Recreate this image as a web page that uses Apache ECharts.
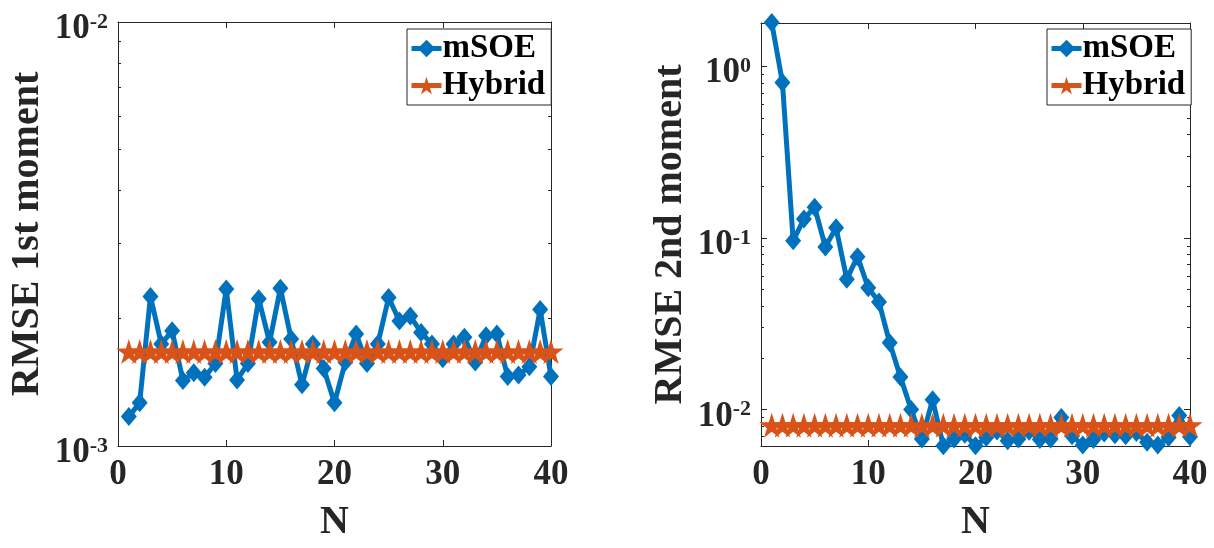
<!DOCTYPE html>
<html>
<head>
<meta charset="utf-8">
<script src="https://cdn.jsdelivr.net/npm/echarts@6/dist/echarts.min.js"></script>
<style>
  html, body { margin: 0; padding: 0; background: #fff; }
  #chart { width: 1214px; height: 548px; }
</style>
</head>
<body>
<div id="chart"></div>
<script>
// N values (x axis)
var nValues = [1, 2, 3, 4, 5, 6, 7, 8, 9, 10, 11, 12, 13, 14, 15, 16, 17, 18, 19, 20,
  21, 22, 23, 24, 25, 26, 27, 28, 29, 30, 31, 32, 33, 34, 35, 36, 37, 38, 39, 40];

// RMSE 1st moment
var msoeFirst = [0.001173, 0.001264, 0.002252, 0.001741, 0.001869, 0.001427, 0.001489, 0.001452, 0.001565, 0.002346,
  0.001432, 0.001565, 0.002224, 0.001757, 0.002355, 0.001788, 0.001394, 0.001741, 0.001523, 0.001264,
  0.001579, 0.001836, 0.001565, 0.001741, 0.002240, 0.001971, 0.002025, 0.001853, 0.001741, 0.001607,
  0.001741, 0.001804, 0.001579, 0.001820, 0.001836, 0.001458, 0.001470, 0.001537, 0.002098, 0.001458];
var hybridFirst = [0.00167, 0.00167, 0.00167, 0.00167, 0.00167, 0.00167, 0.00167, 0.00167, 0.00167, 0.00167,
  0.00167, 0.00167, 0.00167, 0.00167, 0.00167, 0.00167, 0.00167, 0.00167, 0.00167, 0.00167,
  0.00167, 0.00167, 0.00167, 0.00167, 0.00167, 0.00167, 0.00167, 0.00167, 0.00167, 0.00167,
  0.00167, 0.00167, 0.00167, 0.00167, 0.00167, 0.00167, 0.00167, 0.00167, 0.00167, 0.00167];

// RMSE 2nd moment
var msoeSecond = [1.80, 0.805, 0.0962, 0.129, 0.151, 0.0887, 0.1146, 0.0575, 0.0778, 0.0512,
  0.0423, 0.0245, 0.0155, 0.0100, 0.00673, 0.0114, 0.00615, 0.00673, 0.00718, 0.00615,
  0.00687, 0.0075, 0.00658, 0.00673, 0.00748, 0.00668, 0.00673, 0.0090, 0.00703, 0.00621,
  0.00668, 0.00731, 0.00713, 0.00703, 0.00734, 0.00644, 0.00621, 0.00688, 0.00924, 0.00695];
var hybridSecond = [0.0081, 0.0081, 0.0081, 0.0081, 0.0081, 0.0081, 0.0081, 0.0081, 0.0081, 0.0081,
  0.0081, 0.0081, 0.0081, 0.0081, 0.0081, 0.0081, 0.0081, 0.0081, 0.0081, 0.0081,
  0.0081, 0.0081, 0.0081, 0.0081, 0.0081, 0.0081, 0.0081, 0.0081, 0.0081, 0.0081,
  0.0081, 0.0081, 0.0081, 0.0081, 0.0081, 0.0081, 0.0081, 0.0081, 0.0081, 0.0081];

// tick values
var majorFirst = [0.001, 0.01];
var minorFirst = [0.002, 0.003, 0.004, 0.005, 0.006, 0.007, 0.008, 0.009];
var majorSecond = [0.01, 0.1, 1];
var minorSecond = [0.007, 0.008, 0.009, 0.02, 0.03, 0.04, 0.05, 0.06, 0.07, 0.08, 0.09,
  0.2, 0.3, 0.4, 0.5, 0.6, 0.7, 0.8, 0.9];

var FONT = '"Liberation Serif", "Times New Roman", serif';
var INK = '#262626';
var BLUE = '#0072BD';
var ORANGE = '#D95319';
var STAR = 'path://M50,0 L61.2,34.5 L97.6,34.5 L68.2,55.9 L79.4,90.5 L50,69.1 L20.6,90.5 L31.8,55.9 L2.4,34.5 L38.8,34.5 Z';

function pairs(xs, ys) {
  return xs.map(function (x, i) { return [x, ys[i]]; });
}

function expLabel(v) {
  var e = Math.round(Math.log10(v));
  return '{b|10}{s|' + e + '}';
}

function xAxes(gi) {
  return [{
    type: 'value', gridIndex: gi, min: 0, max: 40, interval: 10,
    name: 'N', nameLocation: 'middle', nameGap: 57,
    nameTextStyle: { fontFamily: FONT, fontWeight: 'bold', fontSize: 40, color: INK },
    axisLine: { show: true, lineStyle: { color: INK, width: 1 } },
    axisTick: { inside: true, length: 6, lineStyle: { color: INK } },
    axisLabel: { margin: 11, fontFamily: FONT, fontWeight: 'bold', fontSize: 35, color: INK },
    splitLine: { show: false }
  }, {
    type: 'value', gridIndex: gi, min: 0, max: 40, interval: 10, position: 'top',
    axisLine: { show: true, lineStyle: { color: INK, width: 1 } },
    axisTick: { inside: true, length: 6, lineStyle: { color: INK } },
    axisLabel: { show: false },
    splitLine: { show: false }
  }];
}

function yAxes(gi, lo, hi, major, minor, name) {
  var base = { type: 'log', gridIndex: gi, min: lo, max: hi, splitLine: { show: false } };
  var main = Object.assign({}, base, {
    position: 'left',
    name: name, nameLocation: 'middle', nameGap: 70,
    nameTextStyle: { fontFamily: FONT, fontWeight: 'bold', fontSize: 40, color: INK },
    axisLine: { show: true, lineStyle: { color: INK, width: 1 } },
    axisTick: { inside: true, length: 6, customValues: major, lineStyle: { color: INK } },
    axisLabel: {
      customValues: major, margin: 10, formatter: expLabel, color: INK,
      padding: [14, 0, 0, 0],
      rich: {
        b: { fontFamily: FONT, fontWeight: 'bold', fontSize: 35, color: INK },
        s: { fontFamily: FONT, fontWeight: 'bold', fontSize: 22, color: INK, verticalAlign: 'top', padding: [0, 0, 14, 0] }
      }
    }
  });
  var mainMinor = Object.assign({}, base, {
    position: 'left',
    axisLine: { show: false },
    axisTick: { inside: true, length: 3, customValues: minor, lineStyle: { color: INK } },
    axisLabel: { show: false }
  });
  var right = Object.assign({}, base, {
    position: 'right',
    axisLine: { show: true, lineStyle: { color: INK, width: 1 } },
    axisTick: { inside: true, length: 6, customValues: major, lineStyle: { color: INK } },
    axisLabel: { show: false }
  });
  var rightMinor = Object.assign({}, base, {
    position: 'right',
    axisLine: { show: false },
    axisTick: { inside: true, length: 3, customValues: minor, lineStyle: { color: INK } },
    axisLabel: { show: false }
  });
  return [main, mainMinor, right, rightMinor];
}

function legendFor(left) {
  return {
    orient: 'vertical', left: left, top: 29,
    data: ['mSOE', 'Hybrid'],
    itemWidth: 30, itemHeight: 22, itemGap: 4,
    padding: [3, 6, 3, 2],
    lineStyle: { width: 5 },
    borderColor: INK, borderWidth: 1, backgroundColor: '#fff',
    textStyle: { fontFamily: FONT, fontWeight: 'bold', fontSize: 33, color: '#000', padding: [0, 0, 0, -4] }
  };
}

function msoeSeries(xi, yi, values) {
  return {
    name: 'mSOE', type: 'line', xAxisIndex: xi, yAxisIndex: yi,
    data: pairs(nValues, values), clip: false,
    symbol: 'diamond', symbolSize: [16, 19],
    itemStyle: { color: BLUE },
    lineStyle: { color: BLUE, width: 5 },
    z: 2
  };
}

function hybridSeries(xi, yi, values) {
  return {
    name: 'Hybrid', type: 'line', xAxisIndex: xi, yAxisIndex: yi,
    data: pairs(nValues, values), clip: false,
    symbol: STAR, symbolSize: 25,
    itemStyle: { color: ORANGE },
    lineStyle: { color: ORANGE, width: 5 },
    z: 3
  };
}

var chart = echarts.init(document.getElementById('chart'), null, { renderer: 'canvas' });
chart.setOption({
  animation: false,
  backgroundColor: '#fff',
  grid: [
    { left: 118, top: 22, width: 433, height: 432 },
    { left: 761, top: 23, width: 429, height: 429 }
  ],
  legend: [legendFor(407), legendFor(1047)],
  xAxis: xAxes(0).concat(xAxes(1)),
  yAxis: yAxes(0, 0.001, 0.01, majorFirst, minorFirst, 'RMSE 1st moment')
    .concat(yAxes(1, 0.00613, 1.79, majorSecond, minorSecond, 'RMSE 2nd moment')),
  series: [
    msoeSeries(0, 0, msoeFirst),
    hybridSeries(0, 0, hybridFirst),
    msoeSeries(2, 4, msoeSecond),
    hybridSeries(2, 4, hybridSecond)
  ]
});
</script>
</body>
</html>
